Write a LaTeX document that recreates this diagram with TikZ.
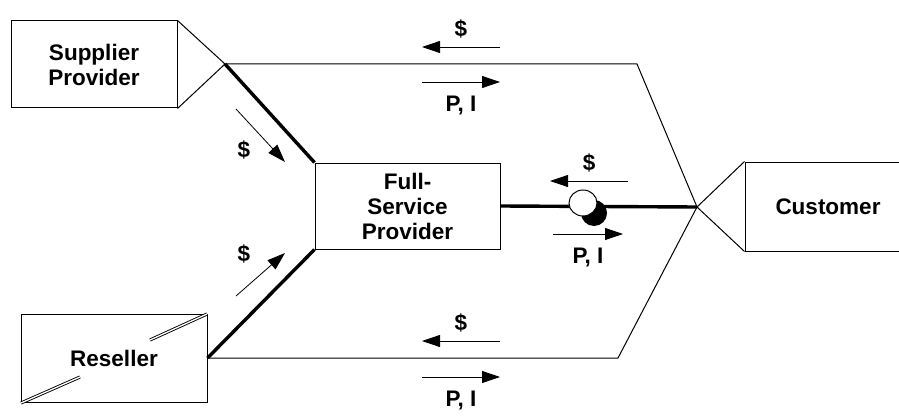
\documentclass[tikz,border=0pt]{standalone}
\usepackage{fontspec}
\setmainfont{Liberation Sans}
\usetikzlibrary{arrows.meta,shapes}
\tikzstyle{party}=[rectangle,draw,line width=1pt,align=center,inner sep=0pt,
                   font=\bfseries\fontsize{22.5}{25}\selectfont]
\tikzstyle{link}=[line width=1pt]
\tikzstyle{hub}=[line width=3.4pt]
\tikzstyle{flow}=[-{Triangle[length=18pt,width=12pt]},line width=0.8pt]
\tikzstyle{tag}=[font=\bfseries\fontsize{22.5}{25}\selectfont]

\begin{document}
\begin{tikzpicture}[x=1pt,y=-1pt]
	\useasboundingbox (0,0) rectangle (899,417);
	\node[party,minimum width=166pt,minimum height=87pt] (supplier) at (94,64.5) {Supplier\\Provider};
	\node[party,minimum width=185pt,minimum height=86pt] (fsp) at (407.5,206) {Full-\\Service\\Provider};
	\node[party,minimum width=186pt,minimum height=88pt] (reseller) at (114,358) {Reseller};
	\node[party,minimum width=166pt,minimum height=89pt] (customer) at (828,206.5) {Customer};
	\coordinate (sa) at (225,64);
	\coordinate (ca) at (697,207);
	\coordinate (topbend) at (637,64);
	\coordinate (botbend) at (618,358);

	% funnels
	\draw[link] (supplier.north east) -- (sa) -- (supplier.south east);
	\draw[link] (customer.north west) -- (ca) -- (customer.south west);

	% channels
	\draw[link] (sa) -- (topbend) -- (ca);
	\draw[link] (reseller.east) -- (botbend) -- (ca);
	\draw[hub] (sa) -- (fsp.north west);
	\draw[hub] (fsp.south west) -- (reseller.east);
	\draw[hub] (fsp.east) -- (ca);

	% reseller mark
	\draw[line width=0.9pt,double,double distance=1.3pt] (21,403) -- (80,377);
	\draw[line width=0.9pt,double,double distance=1.3pt] (150,340) -- (207,314);

	% switch
	\fill (594,213) circle (13);
	\draw[fill=white,line width=1pt] (583,203) ellipse (14 and 13);

	% flows
	\draw[flow] (500,47) -- (422,47) node[tag,pos=0.5,above=5pt] {\$};
	\draw[flow] (422,82) -- (500,82) node[tag,pos=0.5,below=10pt] {P, I};
	\draw[flow] (628,181) -- (550,181) node[tag,pos=0.5,above=5pt] {\$};
	\draw[flow] (553,234) -- (623,234) node[tag,pos=0.5,below=10pt] {P, I};
	\draw[flow] (500,341) -- (422,341) node[tag,pos=0.5,above=5pt] {\$};
	\draw[flow] (422,377) -- (500,377) node[tag,pos=0.5,below=10pt] {P, I};
	\draw[flow] (236,109) -- (285,162);
	\node[tag] (s1) at (244,150) {\$};
	\draw[flow] (236,296) -- (285,253);
	\node[tag] (s2) at (244,254) {\$};
\end{tikzpicture}
\end{document}
